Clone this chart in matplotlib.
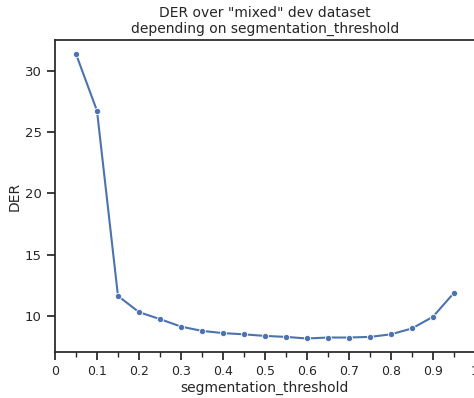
import matplotlib
matplotlib.use("Agg")
import matplotlib.pyplot as plt
import seaborn as sns
from matplotlib.ticker import MultipleLocator, FuncFormatter

sns.set_theme(style="ticks")

thresholds = [0.05, 0.1, 0.15, 0.2, 0.25, 0.3, 0.35, 0.4, 0.45, 0.5,
              0.55, 0.6, 0.65, 0.7, 0.75, 0.8, 0.85, 0.9, 0.95]
der = [31.36, 26.73, 11.63, 10.31, 9.74, 9.13, 8.78, 8.6, 8.5, 8.37,
       8.29, 8.16, 8.24, 8.24, 8.29, 8.5, 8.98, 9.93, 11.88]

fig = plt.figure(figsize=(4.74, 3.98), dpi=100)
ax = fig.add_axes([0.116, 0.1156, 0.886, 0.784])
ax.plot(thresholds, der, color="#4c72b0", marker="o", markersize=4.5,
        markeredgecolor="white", markeredgewidth=0.6, linewidth=1.5)
ax.set_xlim(0, 1)
ax.set_ylim(7.06, 32.5)
ax.xaxis.set_major_locator(MultipleLocator(0.1))
ax.xaxis.set_minor_locator(MultipleLocator(0.05))
ax.xaxis.set_major_formatter(FuncFormatter(lambda v, p: "%g" % round(v, 2)))
ax.tick_params(axis="x", which="major", labelsize=9, length=6)
ax.tick_params(axis="x", which="minor", length=3.5)
ax.tick_params(axis="y", labelsize=9.5, length=6)
ax.set_xlabel("segmentation_threshold", fontsize=10, labelpad=2)
ax.set_ylabel("DER", fontsize=10, labelpad=2)
ax.set_title('DER over "mixed" dev dataset\ndepending on segmentation_threshold', fontsize=10, pad=5)
fig.savefig("out.png", dpi=100)
